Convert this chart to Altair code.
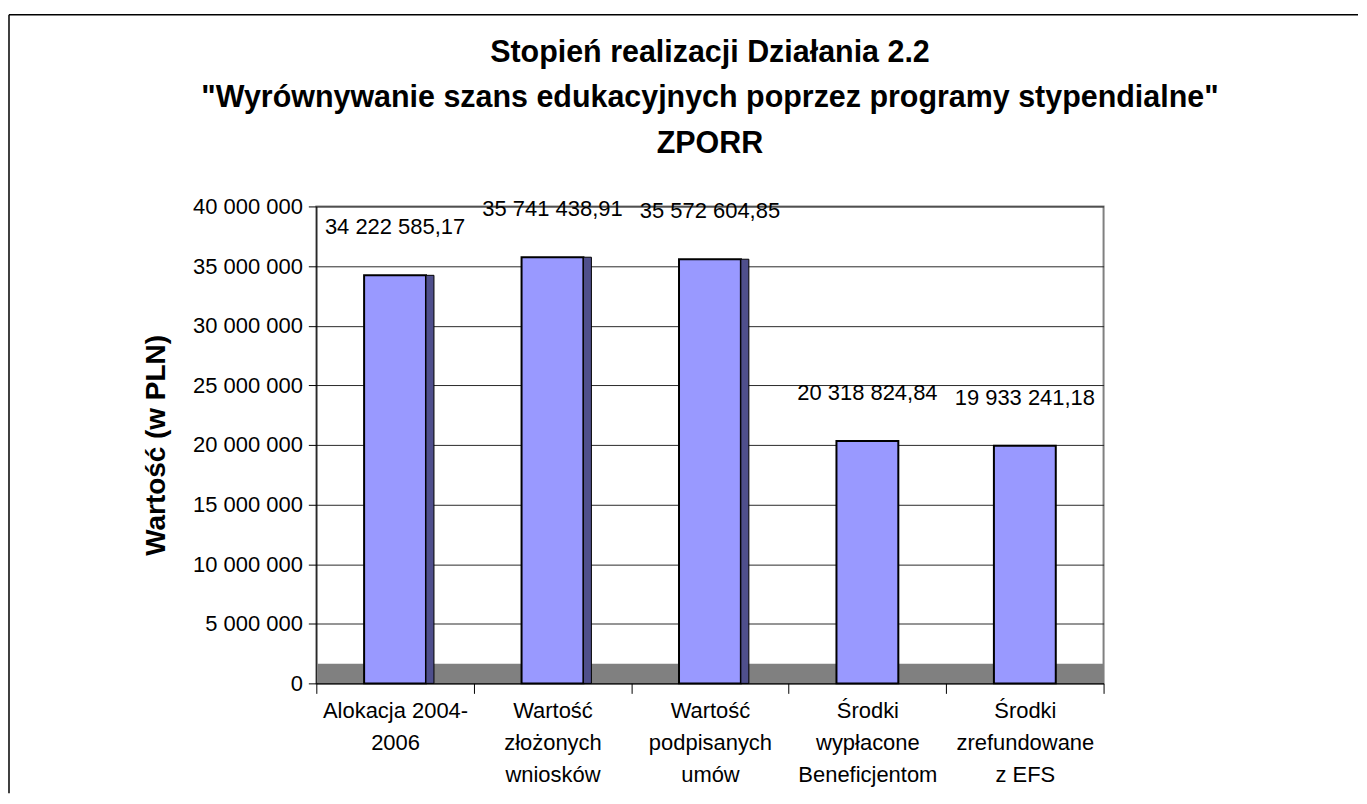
import altair as alt
import pandas as pd

# ---- data ----
categories = [
    "Alokacja 2004-\n2006",
    "Wartość\nzłożonych\nwniosków",
    "Wartość\npodpisanych\numów",
    "Środki\nwypłacone\nBeneficjentom",
    "Środki\nzrefundowane\nz EFS",
]
values = [34222585.17, 35741438.91, 35572604.85, 20318824.84, 19933241.18]
y_ticks = [0, 5000000, 10000000, 15000000, 20000000, 25000000, 30000000, 35000000, 40000000]
title_lines = [
    "Stopień realizacji Działania 2.2",
    "\"Wyrównywanie szans edukacyjnych poprzez programy stypendialne\"",
    "ZPORR",
]
y_title = "Wartość (w PLN)"

# ---- layout / style ----
W, H = 789, 478
FONT = "Liberation Sans"
FLOOR = 1650000  # depth of the grey 'floor' band, in axis units (decoration)

df = pd.DataFrame({"kategoria": categories, "wartosc": values})
one = pd.DataFrame({"k": [0]})

x_enc = alt.X(
    "kategoria:N",
    sort=None,
    scale=alt.Scale(paddingInner=0, paddingOuter=0),
    axis=alt.Axis(
        title=None,
        labelAngle=0,
        labelExpr="split(datum.label, '\\n')",
        labelFontSize=22,
        labelLineHeight=32,
        labelPadding=7,
        labelOverlap=False,
        labelLimit=300,
        tickSize=10,
        tickBand="extent",
        domainColor="black",
        tickColor="black",
        labelColor="black",
        grid=False,
        zindex=1,
    ),
)
y_enc = alt.Y(
    "wartosc:Q",
    scale=alt.Scale(domain=[0, 40000000], nice=False, zero=True),
    axis=alt.Axis(
        title=y_title,
        values=y_ticks,
        labelExpr="replace(format(datum.value, ',d'), regexp(',', 'g'), ' ')",
        labelFontSize=22,
        labelColor="black",
        labelPadding=6,
        tickSize=8,
        tickColor="black",
        domainColor="black",
        grid=True,
        gridColor="#2a2a2a",
        gridWidth=1,
        titleFontSize=28,
        titleFontWeight="bold",
        titleColor="black",
        titlePadding=22,
    ),
)

frame_left = alt.Chart(one).mark_rule(color="black", strokeWidth=1.5).encode(
    x=alt.value(-308), y=alt.value(-192), y2=alt.value(588)
)
frame_top = alt.Chart(one).mark_rule(color="black", strokeWidth=1.5).encode(
    x=alt.value(-308), x2=alt.value(1044), y=alt.value(-192)
)

floor = alt.Chart(one).mark_rect(color="#808080").encode(
    x=alt.value(1), x2=alt.value(W), y=alt.datum(0), y2=alt.datum(FLOOR)
)

bars = alt.Chart(df).mark_bar(
    width=62, color="#9999FF", stroke="black", strokeWidth=2
).encode(x=x_enc, y=y_enc)

side = (
    alt.Chart(df)
    .transform_window(idx="row_number()")
    .transform_filter("datum.idx <= 3")
    .mark_bar(width=8, xOffset=35, color="#4F4F8C", stroke="black", strokeWidth=1)
    .encode(x=x_enc, y=y_enc)
)

labels = (
    alt.Chart(df)
    .transform_calculate(
        lbl="replace(replace(format(datum.wartosc, ',.2f'), regexp(',', 'g'), ' '), '.', ',')"
    )
    .mark_text(fontSize=22, dy=-48, baseline="middle", color="black", font=FONT)
    .encode(x=x_enc, y=y_enc, text="lbl:N")
)

chart = (
    alt.layer(frame_left, frame_top, floor, bars, side, labels)
    .properties(
        width=W,
        height=H,
        padding={"left": 0, "top": 5, "right": 0, "bottom": 0},
        title=alt.Title(
            title_lines,
            fontSize=30.5,
            fontWeight="bold",
            font=FONT,
            color="black",
            lineHeight=46,
            anchor="middle",
            frame="group",
            offset=-146,
        ),
        background="white",
    )
    .configure(font=FONT)
    .configure_view(stroke="#808080", strokeWidth=2)
    .configure_axis(labelFont=FONT, titleFont=FONT)
)

chart.save("out.html", embed_options={"renderer": "svg", "actions": False})
